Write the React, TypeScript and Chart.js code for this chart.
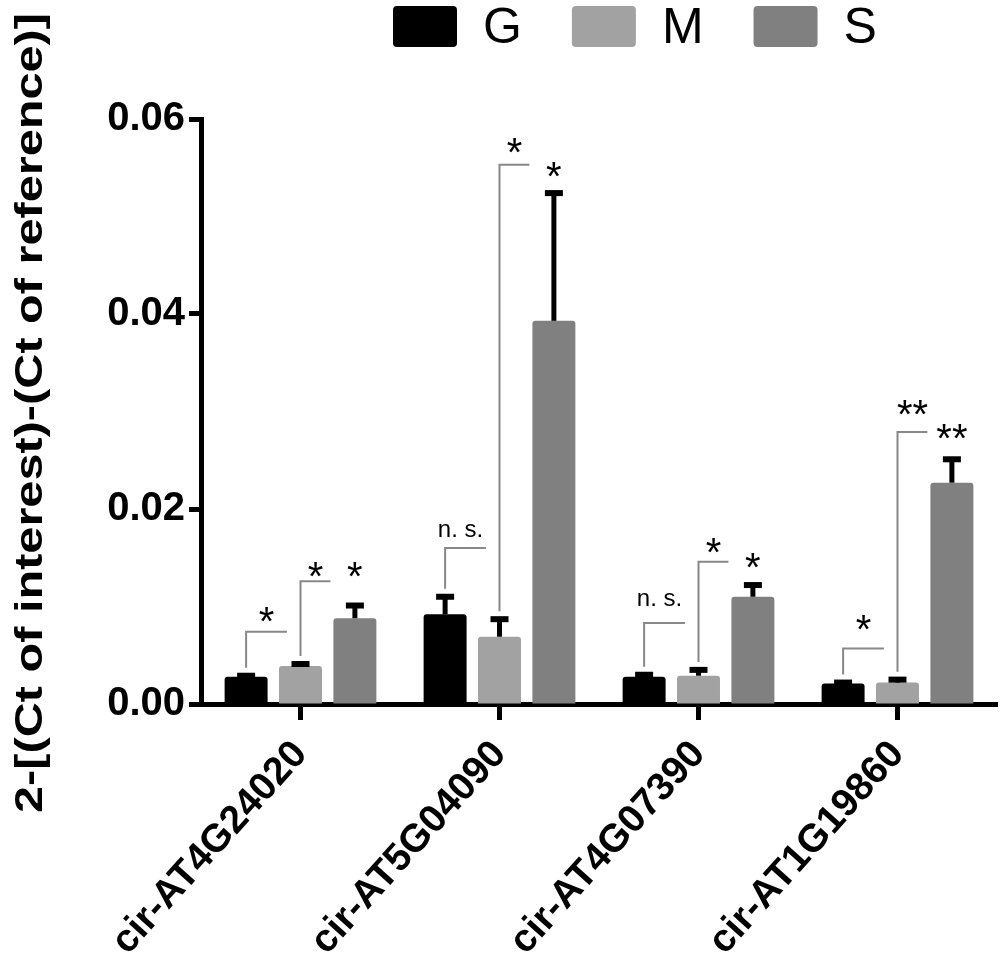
import { useEffect, useRef } from 'react';
import { Chart, registerables } from 'chart.js';

Chart.register(...registerables);

const genes = ['cir-AT4G24020', 'cir-AT5G04090', 'cir-AT4G07390', 'cir-AT1G19860'];
const seriesNames = ['G', 'M', 'S'];
const seriesColors = ['#000000', '#a2a2a2', '#808080'];

// mean expression per gene
const gMeans = [0.0028, 0.0092, 0.0028, 0.0021];
const mMeans = [0.0039, 0.0069, 0.0029, 0.0022];
const sMeans = [0.0088, 0.0393, 0.011, 0.0227];

// upper error (SEM)
const gErrors = [0.0001, 0.0018, 0.0002, 0.0001];
const mErrors = [0.0002, 0.0018, 0.0006, 0.0003];
const sErrors = [0.0013, 0.0131, 0.0012, 0.0024];

// significance brackets: [gene index, from series, bracket top, label, label height]
const brackets: [number, number, number, string, number][] = [
  [0, 0, 0.0074, '*', 0.0094],
  [0, 1, 0.0126, '*', 0.0141],
  [1, 0, 0.016, 'n. s.', 0.0178],
  [1, 1, 0.0553, '*', 0.0575],
  [2, 0, 0.0083, 'n. s.', 0.0108],
  [2, 1, 0.0146, '*', 0.0165],
  [3, 0, 0.0057, '*', 0.0086],
  [3, 1, 0.0279, '**', 0.0307],
];
// marks right above the S bars: [gene index, label, label height]
const sMarks: [number, string, number][] = [
  [0, '*', 0.0141],
  [1, '*', 0.0551],
  [2, '*', 0.015],
  [3, '**', 0.0282],
];

const yTicks = [0, 0.02, 0.04, 0.06];
const yTitle = '2-[(Ct of interest)-(Ct of reference)]';

const FONT = '"Liberation Sans", Arial, Helvetica, sans-serif';

const errorBarPlugin = {
  id: 'errorBars',
  afterDatasetsDraw(chart: any) {
    const ctx = chart.ctx;
    const y = chart.scales.y;
    const errs = [gErrors, mErrors, sErrors];
    ctx.save();
    ctx.strokeStyle = '#000';
    chart.data.datasets.forEach((ds: any, di: number) => {
      const meta = chart.getDatasetMeta(di);
      meta.data.forEach((bar: any, i: number) => {
        const top = y.getPixelForValue(ds.data[i] + errs[di][i]);
        ctx.lineWidth = 5;
        ctx.beginPath();
        ctx.moveTo(bar.x, bar.y);
        ctx.lineTo(bar.x, top);
        ctx.stroke();
        ctx.lineWidth = 6;
        ctx.beginPath();
        ctx.moveTo(bar.x - 9, top);
        ctx.lineTo(bar.x + 9, top);
        ctx.stroke();
      });
    });
    ctx.restore();
  },
};

const bracketPlugin = {
  id: 'brackets',
  afterDatasetsDraw(chart: any) {
    const ctx = chart.ctx;
    const y = chart.scales.y;
    const errs = [gErrors, mErrors, sErrors];
    ctx.save();
    ctx.strokeStyle = '#888';
    ctx.fillStyle = '#000';
    ctx.lineWidth = 2;
    ctx.textAlign = 'center';
    ctx.textBaseline = 'alphabetic';
    brackets.forEach(([gi, si, topVal, label, labelVal]) => {
      const bar = chart.getDatasetMeta(si).data[gi];
      const next = chart.getDatasetMeta(si + 1).data[gi];
      const gap = next.x - bar.x;
      const len = gap * (si === 0 ? 0.75 : 0.55);
      const start = y.getPixelForValue(chart.data.datasets[si].data[gi] + errs[si][gi]) - 8;
      const top = y.getPixelForValue(topVal);
      ctx.beginPath();
      ctx.moveTo(bar.x, start);
      ctx.lineTo(bar.x, top);
      ctx.lineTo(bar.x + len, top);
      ctx.stroke();
      const ly = y.getPixelForValue(labelVal);
      if (label === 'n. s.') {
        ctx.font = `24px ${FONT}`;
        ctx.fillText(label, bar.x + len / 2 - 5, ly + 7);
      } else {
        ctx.font = `40px ${FONT}`;
        ctx.fillText(label, bar.x + len / 2, ly + 23);
      }
    });
    sMarks.forEach(([gi, label, val]) => {
      const bar = chart.getDatasetMeta(2).data[gi];
      ctx.font = `40px ${FONT}`;
      ctx.fillText(label, bar.x, y.getPixelForValue(val) + 23);
    });
    ctx.restore();
  },
};

const legendPlugin = {
  id: 'topLegend',
  afterDraw(chart: any) {
    const ctx = chart.ctx;
    ctx.save();
    ctx.font = `50px ${FONT}`;
    ctx.textBaseline = 'alphabetic';
    ctx.textAlign = 'left';
    let x = 393;
    chart.data.datasets.forEach((ds: any) => {
      ctx.fillStyle = ds.backgroundColor;
      ctx.beginPath();
      ctx.roundRect(x, 6, 64, 41, 4);
      ctx.fill();
      ctx.fillStyle = '#000';
      ctx.fillText(ds.label, x + 90, 43);
      x += 90 + ctx.measureText(ds.label).width + 50;
    });
    ctx.restore();
  },
};

const yTitlePlugin = {
  id: 'yTitle',
  afterDraw(chart: any) {
    const ctx = chart.ctx;
    ctx.save();
    ctx.font = `bold 38px ${FONT}`;
    ctx.fillStyle = '#000';
    ctx.textAlign = 'center';
    ctx.textBaseline = 'alphabetic';
    const w = ctx.measureText(yTitle).width;
    ctx.translate(42, 413);
    ctx.rotate(-Math.PI / 2);
    ctx.scale(800 / w, 1);
    ctx.fillText(yTitle, 0, 0);
    ctx.restore();
  },
};

export default function App() {
  const canvasRef = useRef<HTMLCanvasElement>(null);

  useEffect(() => {
    document.body.style.margin = '0';
    if (!canvasRef.current) return;
    const means = [gMeans, mMeans, sMeans];
    const chart = new Chart(canvasRef.current, {
      type: 'bar',
      data: {
        labels: genes,
        datasets: seriesNames.map((name, i) => ({
          label: name,
          data: means[i],
          backgroundColor: seriesColors[i],
          borderRadius: 3,
          borderSkipped: 'start',
          categoryPercentage: 0.82,
          barPercentage: 0.79,
        })),
      },
      options: {
        responsive: true,
        maintainAspectRatio: false,
        animation: false,
        layout: { padding: { top: 119, right: 3, left: 0, bottom: 0 } },
        plugins: {
          legend: { display: false },
          tooltip: { enabled: false },
        },
        scales: {
          x: {
            grid: {
              drawOnChartArea: false,
              drawTicks: true,
              tickLength: 16,
              tickWidth: 5,
              tickColor: '#000',
              offset: false,
            },
            border: { display: true, width: 5, color: '#000' },
            ticks: {
              color: '#000',
              font: { family: FONT, size: 39, weight: 'bold' },
              minRotation: 48,
              maxRotation: 48,
              padding: 12,
              autoSkip: false,
            },
            afterFit: (s: any) => {
              s.height = 275;
            },
          },
          y: {
            min: 0,
            max: 0.06,
            afterBuildTicks: (s: any) => {
              s.ticks = yTicks.map((v) => ({ value: v }));
            },
            ticks: {
              color: '#000',
              font: { family: FONT, size: 40, weight: 'bold' },
              padding: 4,
              callback: (v: any) => Number(v).toFixed(2),
            },
            grid: {
              drawOnChartArea: false,
              tickLength: 12,
              tickWidth: 5,
              tickColor: '#000',
            },
            border: { display: true, width: 5, color: '#000' },
            afterFit: (s: any) => {
              s.width = 201;
            },
          },
        },
      },
      plugins: [errorBarPlugin, bracketPlugin, legendPlugin, yTitlePlugin],
    });
    return () => chart.destroy();
  }, []);

  return (
    <div style={{ position: 'relative', width: 1000, height: 979, background: '#fff' }}>
      <canvas ref={canvasRef}></canvas>
    </div>
  );
}
